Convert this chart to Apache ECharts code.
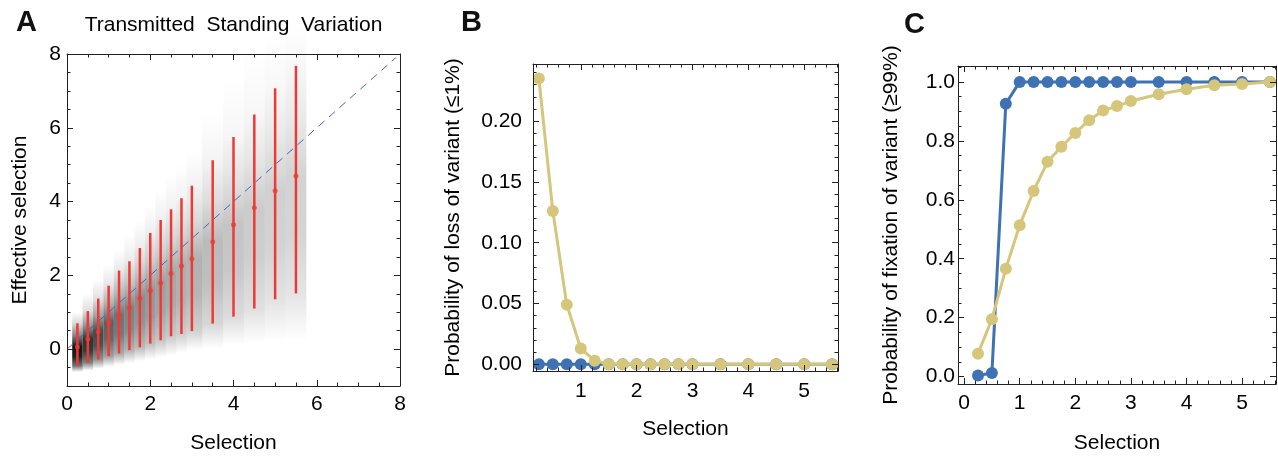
<!DOCTYPE html>
<html>
<head>
<meta charset="utf-8">
<script src="https://cdn.jsdelivr.net/npm/echarts@6/dist/echarts.min.js"></script>
<style>
  html, body { margin: 0; padding: 0; background: #fff; }
  #chart { width: 1278px; height: 459px; }
</style>
</head>
<body>
<div id="chart"></div>
<script>
// ---------------- DATA ----------------
const selection = [0.25, 0.5, 0.75, 1, 1.25, 1.5, 1.75, 2, 2.25, 2.5, 2.75, 3, 3.5, 4, 4.5, 5, 5.5];

// Panel A: effective selection (mean, lower and upper bar ends)
const effMean = [0.06, 0.27, 0.47, 0.73, 0.92, 1.12, 1.38, 1.59, 1.79, 2.05, 2.25, 2.45, 2.91, 3.37, 3.83, 4.29, 4.69];
const effLow  = [-0.45, -0.37, -0.28, -0.19, -0.12, -0.03, 0.05, 0.15, 0.24, 0.35, 0.41, 0.49, 0.69, 0.88, 1.10, 1.35, 1.51];
const effHigh = [0.70, 1.03, 1.37, 1.72, 2.13, 2.38, 2.74, 3.15, 3.50, 3.79, 4.09, 4.43, 5.12, 5.75, 6.36, 7.07, 7.68];

// Panel A: grey density columns (column edges, vertical extent, peak darkness)
const colEdges  = [0.125, 0.375, 0.625, 0.875, 1.125, 1.375, 1.625, 1.875, 2.125, 2.375, 2.625, 2.875, 3.25, 3.75, 4.25, 4.75, 5.25, 5.75];
const densLow   = [-0.62, -0.58, -0.53, -0.48, -0.43, -0.38, -0.33, -0.28, -0.23, -0.18, -0.1, -0.03, 0.02, 0.1, 0.15, 0.2, 0.22];
const densHigh  = [1.0, 1.5, 1.9, 2.3, 2.7, 3.1, 3.5, 3.9, 4.3, 4.7, 5.0, 5.4, 6.4, 7.3, 8.1, 8.6, 9.0];
const densPeak  = [1.0, 0.88, 0.78, 0.68, 0.6, 0.54, 0.49, 0.45, 0.41, 0.38, 0.35, 0.33, 0.29, 0.25, 0.22, 0.2, 0.19];

// Panel B: probability of loss of variant
const lossBlue   = [0, 0, 0, 0, 0, 0, 0, 0, 0, 0, 0, 0, 0, 0, 0, 0, 0];
const lossYellow = [0.235, 0.126, 0.049, 0.013, 0.003, 0, 0, 0, 0, 0, 0, 0, 0, 0, 0, 0, 0];

// Panel C: probability of fixation of variant
const fixBlue   = [0.004, 0.012, 0.926, 1, 1, 1, 1, 1, 1, 1, 1, 1, 1, 1, 1, 1, 1];
const fixYellow = [0.078, 0.195, 0.366, 0.514, 0.63, 0.729, 0.78, 0.827, 0.87, 0.903, 0.918, 0.935, 0.958, 0.975, 0.989, 0.993, 1.0];

// Tick values
const aXTicks = [0, 2, 4, 6, 8];
const aYTicks = [0, 2, 4, 6, 8];
const bXTicks = [1, 2, 3, 4, 5];
const bYTicks = [0, 0.05, 0.10, 0.15, 0.20];
const cXTicks = [0, 1, 2, 3, 4, 5];
const cYTicks = [0, 0.2, 0.4, 0.6, 0.8, 1.0];

// ---------------- STYLE ----------------
const FONT = '"Liberation Sans", Arial, Helvetica, sans-serif';
const BLUE = '#3E72B2';
const YELLOW = '#D6C67C';
const RED = '#EE3A36';
const DASH = '#4A66B5';
const AXC = '#222';

function steps(a, b, s) {
  const out = [];
  const n = Math.round((b - a) / s);
  for (let i = 0; i <= n; i++) out.push(+(a + i * s).toFixed(6));
  return out;
}

const xAxes = [], yAxes = [];
function addAxes(gi, cfg) {
  const mainX = xAxes.length, mainY = yAxes.length;
  ['bottom', 'top'].forEach((pos, k) => {
    xAxes.push({
      type: 'value', gridIndex: gi, position: pos, min: cfg.xr[0], max: cfg.xr[1], z: 10,
      axisLine: { show: true, onZero: false, lineStyle: { color: AXC, width: 1 } },
      axisTick: { show: true, inside: true, length: 6, customValues: cfg.xMaj, lineStyle: { color: AXC } },
      axisLabel: k === 0 ? { show: true, customValues: cfg.xMaj, formatter: cfg.xFmt, fontFamily: FONT, fontSize: 21, color: '#000', margin: cfg.xLM } : { show: false },
      splitLine: { show: false },
      name: k === 0 ? cfg.xName : '', nameLocation: 'middle', nameGap: cfg.xGap,
      nameTextStyle: { fontFamily: FONT, fontSize: 21, color: '#000' }
    });
    xAxes.push({
      type: 'value', gridIndex: gi, position: pos, min: cfg.xr[0], max: cfg.xr[1], z: 10,
      axisLine: { show: false, onZero: false },
      axisTick: { show: true, inside: true, length: 3.5, customValues: cfg.xMin, lineStyle: { color: AXC } },
      axisLabel: { show: false }, splitLine: { show: false }
    });
  });
  ['left', 'right'].forEach((pos, k) => {
    yAxes.push({
      type: 'value', gridIndex: gi, position: pos, min: cfg.yr[0], max: cfg.yr[1], z: 10,
      axisLine: { show: true, onZero: false, lineStyle: { color: AXC, width: 1 } },
      axisTick: { show: true, inside: true, length: 6, customValues: cfg.yMaj, lineStyle: { color: AXC } },
      axisLabel: k === 0 ? { show: true, customValues: cfg.yMaj, formatter: cfg.yFmt, fontFamily: FONT, fontSize: 21, color: '#000', margin: cfg.yLM } : { show: false },
      splitLine: { show: false },
      name: k === 0 ? cfg.yName : '', nameLocation: 'middle', nameGap: cfg.yGap,
      nameTextStyle: { fontFamily: FONT, fontSize: 21, color: '#000' }
    });
    yAxes.push({
      type: 'value', gridIndex: gi, position: pos, min: cfg.yr[0], max: cfg.yr[1], z: 10,
      axisLine: { show: false, onZero: false },
      axisTick: { show: true, inside: true, length: 3.5, customValues: cfg.yMin, lineStyle: { color: AXC } },
      axisLabel: { show: false }, splitLine: { show: false }
    });
  });
  return { x: mainX, y: mainY };
}

const axA = addAxes(0, {
  xr: [0, 8], yr: [-1, 8], xMaj: aXTicks, yMaj: aYTicks,
  xMin: steps(0, 8, 0.5), yMin: steps(-1, 8, 0.5),
  xFmt: v => String(v), yFmt: v => String(v),
  xName: 'Selection', yName: 'Effective selection', xGap: 47, yGap: 36, xLM: 8, yLM: 6
});
const axB = addAxes(1, {
  xr: [0.145, 5.605], yr: [-0.0055, 0.247], xMaj: bXTicks, yMaj: bYTicks,
  xMin: steps(0.2, 5.6, 0.2), yMin: steps(0, 0.24, 0.01),
  xFmt: v => String(v), yFmt: v => v.toFixed(2),
  xName: 'Selection', yName: 'Probability of loss of variant (\u22641%)', xGap: 48, yGap: 69, xLM: 10, yLM: 11
});
const axC = addAxes(2, {
  xr: [-0.11, 5.61], yr: [-0.025, 1.054], xMaj: cXTicks, yMaj: cYTicks,
  xMin: steps(0, 5.6, 0.2), yMin: steps(0, 1.05, 0.05),
  xFmt: v => String(v), yFmt: v => v.toFixed(1),
  xName: 'Selection', yName: 'Probability of fixation of variant (\u226599%)', xGap: 49, yGap: 56, xLM: 9, yLM: 3
});

const densData = selection.map((s, i) => [colEdges[i], colEdges[i + 1], densLow[i], densHigh[i], effLow[i], effMean[i], effHigh[i], densPeak[i]]);
const barData = selection.map((s, i) => [s, effLow[i], effHigh[i]]);
const meanData = selection.map((s, i) => [s, effMean[i]]);

function k(a) { return 'rgba(20,20,20,' + Math.max(0, Math.min(1, a)).toFixed(3) + ')'; }

const lineSeries = (name, ax, ys, color, z) => ({
  type: 'line', name, xAxisIndex: ax.x, yAxisIndex: ax.y, z,
  data: selection.map((s, i) => [s, ys[i]]),
  symbol: 'circle', symbolSize: 12, showSymbol: true,
  itemStyle: { color }, lineStyle: { color, width: 3 },
  emphasis: { disabled: true }, clip: false
});

const option = {
  animation: false,
  backgroundColor: '#fff',
  grid: [
    { left: 67, top: 54, width: 333, height: 333 },
    { left: 533, top: 64, width: 305, height: 307 },
    { left: 958, top: 66, width: 318, height: 318 }
  ],
  xAxis: xAxes,
  yAxis: yAxes,
  graphic: [
    { type: 'text', left: 16, top: 8, style: { text: 'A', font: 'bold 29px ' + FONT, fill: '#111' } },
    { type: 'text', left: 461, top: 8, style: { text: 'B', font: 'bold 29px ' + FONT, fill: '#111' } },
    { type: 'text', left: 904, top: 10, style: { text: 'C', font: 'bold 29px ' + FONT, fill: '#111' } },
    { type: 'text', x: 233.5, y: 25, style: { text: 'Transmitted  Standing  Variation', font: '21px ' + FONT, fill: '#000', align: 'center', verticalAlign: 'middle' } }
  ],
  series: [
    {
      type: 'custom', xAxisIndex: axA.x, yAxisIndex: axA.y, z: 1, clip: false,
      data: densData,
      renderItem: function (params, api) {
        const x0 = api.value(0), x1 = api.value(1), lo = api.value(2), hi = api.value(3);
        const el = api.value(4), m = api.value(5), eh = api.value(6), pk = api.value(7);
        const p0 = api.coord([x0, hi]);
        const p1 = api.coord([x1, lo]);
        const off = v => Math.max(0, Math.min(1, (hi - v) / (hi - lo)));
        return {
          type: 'rect',
          shape: { x: p0[0], y: p0[1], width: p1[0] - p0[0], height: p1[1] - p0[1] },
          style: {
            fill: new echarts.graphic.LinearGradient(0, 0, 0, 1, [
              { offset: 0, color: k(0) },
              { offset: off(eh), color: k(0.16 * pk) },
              { offset: off((m + eh) / 2), color: k(0.5 * pk) },
              { offset: off(m), color: k(pk) },
              { offset: off((m + el) / 2), color: k(0.95 * pk) },
              { offset: off(el), color: k(0.6 * pk) },
              { offset: 1, color: k(0) }
            ])
          }
        };
      }
    },
    {
      type: 'line', xAxisIndex: axA.x, yAxisIndex: axA.y, z: 2,
      data: [[0, 0], [7.9, 7.9]], symbol: 'none',
      lineStyle: { color: DASH, width: 1, type: [8, 6] }, emphasis: { disabled: true }
    },
    {
      type: 'custom', xAxisIndex: axA.x, yAxisIndex: axA.y, z: 3,
      data: barData,
      renderItem: function (params, api) {
        const a = api.coord([api.value(0), api.value(1)]);
        const b = api.coord([api.value(0), api.value(2)]);
        return { type: 'line', shape: { x1: a[0], y1: a[1], x2: b[0], y2: b[1] }, style: { stroke: RED, lineWidth: 2.5 } };
      }
    },
    {
      type: 'scatter', xAxisIndex: axA.x, yAxisIndex: axA.y, z: 4,
      data: meanData, symbol: 'circle', symbolSize: 5, itemStyle: { color: RED }, emphasis: { disabled: true }
    },
    lineSeries('blueB', axB, lossBlue, BLUE, 2),
    lineSeries('yellowB', axB, lossYellow, YELLOW, 3),
    lineSeries('blueC', axC, fixBlue, BLUE, 2),
    lineSeries('yellowC', axC, fixYellow, YELLOW, 3)
  ]
};

const chart = echarts.init(document.getElementById('chart'), null, { renderer: 'canvas' });
chart.setOption(option);
</script>
</body>
</html>
